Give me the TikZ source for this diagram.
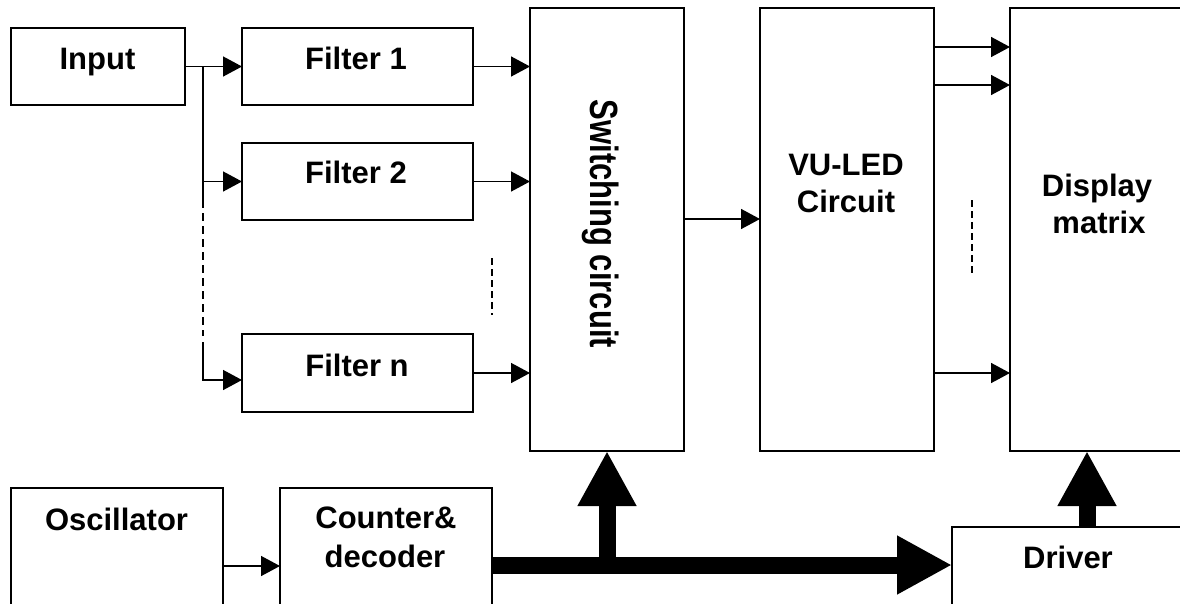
\documentclass[tikz,border=0pt]{standalone}
\usepackage{fontspec}
\usepackage{graphicx}
\setmainfont{Liberation Sans}
\usetikzlibrary{arrows.meta}
\begin{document}
\begin{tikzpicture}[x=1pt,y=-1pt,
  box/.style={draw,line width=1.6pt,rectangle,inner sep=0pt,outer sep=0pt,anchor=north west},
  lbl/.style={font=\bfseries\fontsize{31}{37}\selectfont,anchor=base,inner sep=0pt},
  arr/.style={line width=1.5pt,-{Triangle[length=19pt,width=20pt]}},
  bus/.style={line width=17pt,-{Triangle[length=55pt,width=55pt]}},
  dsh/.style={line width=1.5pt,dash pattern=on 8pt off 5pt},
  dotline/.style={line width=1.2pt,dash pattern=on 7pt off 4pt}]
\useasboundingbox (0,0) rectangle (1180,603);
\clip (0,0) rectangle (1180,603);
% boxes
\node[box,minimum width=174pt,minimum height=77pt] (in) at (11,28) {};
\node[box,minimum width=231pt,minimum height=77pt] (f1) at (242,28) {};
\node[box,minimum width=231pt,minimum height=77pt] (f2) at (242,143) {};
\node[box,minimum width=231pt,minimum height=78pt] (fn) at (242,334) {};
\node[box,minimum width=154pt,minimum height=443pt] (sw) at (530,8) {};
\node[box,minimum width=174pt,minimum height=443pt] (vu) at (760,8) {};
\node[box,minimum width=190pt,minimum height=443pt] (dm) at (1010,8) {};
\node[box,minimum width=212pt,minimum height=154pt] (os) at (11,488) {};
\node[box,minimum width=212pt,minimum height=154pt] (cd) at (280,488) {};
\node[box,minimum width=270pt,minimum height=120pt] (dr) at (952,527) {};
% labels
\node[lbl] (tin) at (97.5,69) {Input};
\node[lbl] (tf1) at (356,69) {Filter 1};
\node[lbl] (tf2) at (356,183) {Filter 2};
\node[lbl] (tfn) at (357,376) {Filter n};
\node[lbl,rotate=-90] (tsw) at (590,224) {\scalebox{1}[1.27]{Switching circuit}};
\node[lbl] (tvu1) at (846,175) {VU-LED};
\node[lbl] (tvu2) at (846,212) {Circuit};
\node[lbl] (tdm1) at (1097,196) {Display};
\node[lbl] (tdm2) at (1099,233) {matrix};
\node[lbl] (tos) at (116.5,530) {Oscillator};
\node[lbl] (tcd1) at (386,528) {Counter\&};
\node[lbl] (tcd2) at (385,567) {decoder};
\node[lbl] (tdr) at (1068,568) {Driver};
% branch coordinates
\coordinate (b1) at (203,66.5);
\coordinate (b2) at (203,200);
\coordinate (b3) at (203,336);
\coordinate (b4) at (203,342);
\coordinate (d1a) at (492,258);
\coordinate (d1b) at (492,315);
\coordinate (d2a) at (972,200);
\coordinate (d2b) at (972,275);
% connectors
\draw[arr] (in.east) -- (f1.west);
\draw[line width=1.5pt] (b1) -- (b2);
\draw[arr] (b1 |- f2.west) -- (f2.west);
\draw[dsh] (b2) -- (b3);
\draw[arr] (b4) |- ([yshift=-7pt]fn.west);
\draw[arr] (f1.east) -- (f1.east -| sw.west);
\draw[arr] (f2.east) -- (f2.east -| sw.west);
\draw[arr] (fn.east) -- (fn.east -| sw.west);
\draw[dotline] (d1a) -- (d1b);
\draw[arr] ([yshift=10.5pt]sw.east) -- ([yshift=10.5pt]vu.west);
\draw[arr] ([yshift=-39pt]vu.north east) -- ([yshift=-39pt]dm.north west);
\draw[arr] ([yshift=-77pt]vu.north east) -- ([yshift=-77pt]dm.north west);
\draw[arr] ([yshift=78pt]vu.south east) -- ([yshift=78pt]dm.south west);
\draw[dotline] (d2a) -- (d2b);
\draw[arr] ([yshift=-78pt]os.north east) -- ([yshift=-78pt]cd.north west);
\draw[bus] (cd.east) -- (cd.east -| dr.west);
\draw[bus] (cd.east -| sw.south) -- (sw.south);
\draw[bus] (dr.north) -- (dr.north |- dm.south);
\end{tikzpicture}
\end{document}
